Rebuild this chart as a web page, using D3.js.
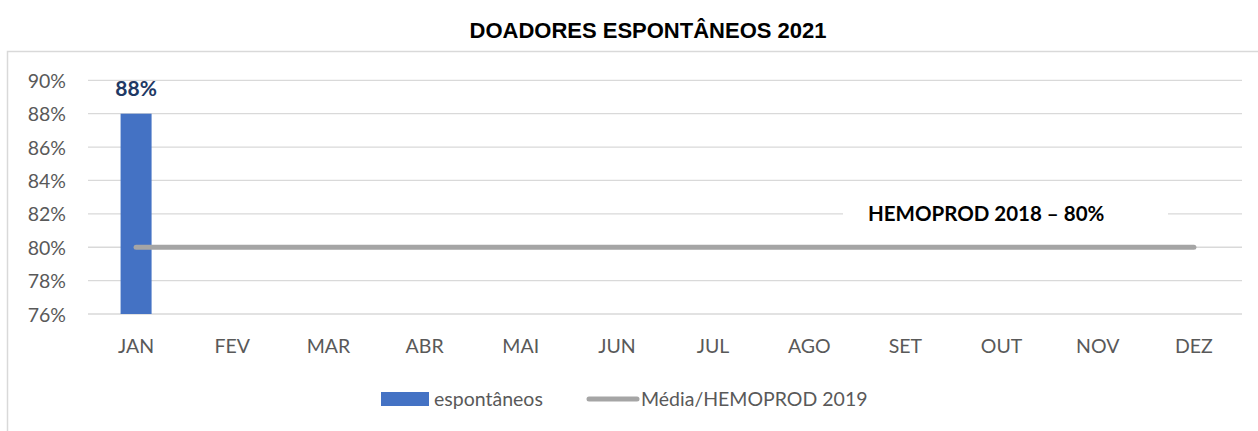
<!DOCTYPE html>
<html>
<head>
  <meta charset="UTF-8">
  <style>
    body { margin: 0; background: #fff; }
    svg { display: block; }
    .tick text { font-family: Lato, "Open Sans", sans-serif; font-size: 19.5px; fill: #595959; }
    .legend text { font-family: Lato, "Open Sans", sans-serif; font-size: 19.5px; fill: #595959; }
  </style>
</head>
<body>
  <svg width="1258" height="431"></svg>
  <script src="https://cdn.jsdelivr.net/npm/d3@7"></script>
  <script>
    var months = ["JAN", "FEV", "MAR", "ABR", "MAI", "JUN", "JUL", "AGO", "SET", "OUT", "NOV", "DEZ"];
    var espontaneos = [0.88, null, null, null, null, null, null, null, null, null, null, null];
    var media = [0.80, 0.80, 0.80, 0.80, 0.80, 0.80, 0.80, 0.80, 0.80, 0.80, 0.80, 0.80];
    var yTicks = [0.76, 0.78, 0.80, 0.82, 0.84, 0.86, 0.88, 0.90];

    var svg = d3.select("svg"),
        margin = {top: 80, right: 16, left: 88},
        plotBottom = 314;

    var x = d3.scaleBand().domain(months).range([margin.left, 1258 - margin.right]),
        y = d3.scaleLinear().domain([0.76, 0.90]).range([plotBottom, 80.3]);

    // chart area border
    svg.append("path")
        .attr("d", "M7.5,440 V51.5 H1260")
        .attr("fill", "none")
        .attr("stroke", "#d9d9d9")
        .attr("stroke-width", 1.5);

    svg.append("text")
        .attr("x", 648).attr("y", 38)
        .attr("text-anchor", "middle")
        .style("font-family", "Liberation Sans, Arial, sans-serif")
        .style("font-weight", "bold")
        .style("font-size", "22px")
        .attr("fill", "#000")
        .text("DOADORES ESPONTÂNEOS 2021");

    // gridlines
    svg.append("g")
        .selectAll("line")
        .data(yTicks)
        .enter().append("line")
        .attr("x1", margin.left).attr("x2", 1258 - margin.right)
        .attr("y1", function(d) { return y(d); })
        .attr("y2", function(d) { return y(d); })
        .attr("stroke", "#d9d9d9")
        .attr("stroke-width", 1.3);

    var yAxis = d3.axisLeft(y).tickValues(yTicks).tickSize(0).tickPadding(0)
        .tickFormat(d3.format(".0%"));
    svg.append("g")
        .attr("transform", "translate(66,0)")
        .call(yAxis)
        .call(function(g) { g.select(".domain").remove(); })
        .selectAll("text").attr("dy", "0.36em");

    var xAxis = d3.axisBottom(x).tickSize(0).tickPadding(0);
    svg.append("g")
        .attr("transform", "translate(0,353)")
        .call(xAxis)
        .call(function(g) { g.select(".domain").remove(); })
        .selectAll("text").attr("dy", "0");

    var barW = 31;
    var barData = months.map(function(m, i) { return {m: m, v: espontaneos[i]}; })
        .filter(function(d) { return d.v != null; });

    svg.append("g")
        .selectAll("rect")
        .data(barData)
        .enter().append("rect")
        .attr("x", function(d) { return x(d.m) + x.bandwidth() / 2 - barW / 2; })
        .attr("width", barW)
        .attr("y", function(d) { return y(d.v); })
        .attr("height", function(d) { return plotBottom - y(d.v); })
        .attr("fill", "#4472c4");

    svg.append("g")
        .selectAll("text")
        .data(barData)
        .enter().append("text")
        .attr("x", function(d) { return x(d.m) + x.bandwidth() / 2; })
        .attr("y", function(d) { return y(d.v) - 18; })
        .attr("text-anchor", "middle")
        .style("font-family", "Lato, 'Open Sans', sans-serif")
        .style("font-weight", "bold")
        .style("font-size", "21px")
        .attr("fill", "#203864")
        .text(function(d) { return d3.format(".0%")(d.v); });

    var line = d3.line()
        .x(function(d, i) { return x(months[i]) + x.bandwidth() / 2; })
        .y(function(d) { return y(d); });

    svg.append("path")
        .datum(media)
        .attr("d", line)
        .attr("fill", "none")
        .attr("stroke", "#a5a5a5")
        .attr("stroke-width", 5)
        .attr("stroke-linecap", "round");

    // annotation box
    svg.append("rect")
        .attr("x", 843).attr("y", 200).attr("width", 325).attr("height", 26)
        .attr("fill", "#fff");
    svg.append("text")
        .attr("x", 868).attr("y", y(0.82) + 7)
        .style("font-family", "Lato, 'Open Sans', sans-serif")
        .style("font-weight", "bold")
        .style("font-size", "20.5px")
        .attr("fill", "#000")
        .text("HEMOPROD 2018 – 80%");

    var legend = svg.append("g").attr("class", "legend");
    legend.append("rect")
        .attr("x", 381).attr("y", 392).attr("width", 48).attr("height", 14)
        .attr("fill", "#4472c4");
    legend.append("text")
        .attr("x", 434).attr("y", 406)
        .text("espontâneos");
    legend.append("line")
        .attr("x1", 589).attr("x2", 637).attr("y1", 399).attr("y2", 399)
        .attr("stroke", "#a5a5a5").attr("stroke-width", 5).attr("stroke-linecap", "round");
    legend.append("text")
        .attr("x", 641).attr("y", 406)
        .text("Média/HEMOPROD 2019");
  </script>
</body>
</html>
